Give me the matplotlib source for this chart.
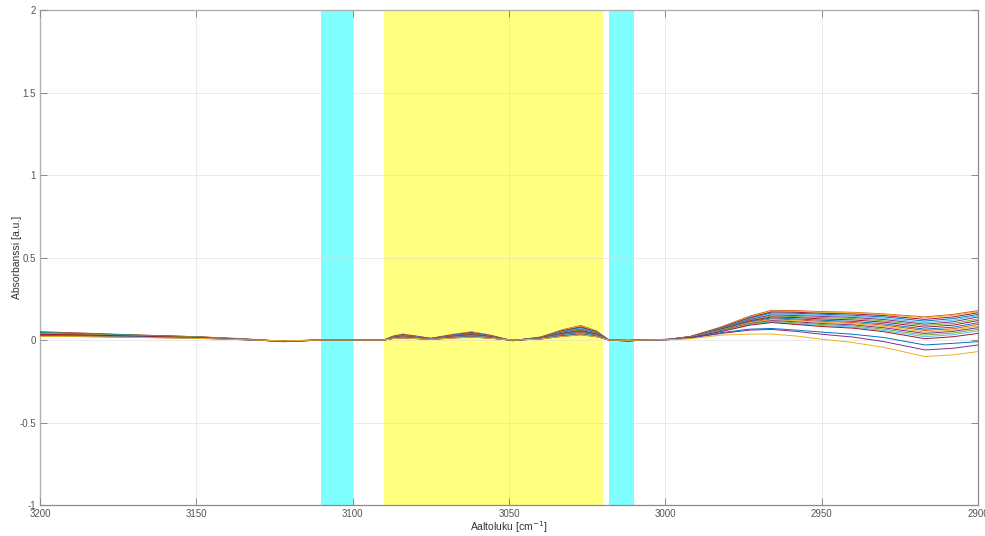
import matplotlib
matplotlib.use("Agg")
import matplotlib.pyplot as plt

plt.rcParams['font.family'] = ['Liberation Sans', 'DejaVu Sans']

wavenumber = [3200, 3185, 3170, 3150, 3135, 3122, 3110, 3100,
              3090, 3087, 3084, 3080, 3075, 3068, 3062, 3056, 3049, 3040, 3033, 3027, 3022, 3018, 3012, 3005,
              2999, 2992, 2982, 2973, 2966, 2958, 2950, 2940, 2930, 2917, 2908, 2900]

s01 = ([0.045, 0.038, 0.030, 0.020, 0.008, -0.008, 0.000, 0.000] +
       [0, 0.024, 0.036, 0.025, 0.010, 0.034, 0.050, 0.030, -0.004, 0.018, 0.062, 0.088, 0.055, 0, -0.006, 0.002] +
       [0.004, 0.022, 0.080, 0.145, 0.180, 0.178, 0.172, 0.168, 0.158, 0.140, 0.155, 0.178])
s02 = ([0.040, 0.035, 0.028, 0.018, 0.006, -0.010, 0.000, 0.000] +
       [0, 0.023, 0.034, 0.024, 0.010, 0.032, 0.048, 0.029, -0.004, 0.017, 0.059, 0.084, 0.052, 0, -0.006, 0.002] +
       [0.004, 0.021, 0.078, 0.140, 0.175, 0.174, 0.168, 0.165, 0.155, 0.135, 0.150, 0.172])
s03 = ([0.050, 0.041, 0.031, 0.020, 0.006, -0.010, 0.000, 0.000] +
       [0, 0.022, 0.032, 0.023, 0.009, 0.031, 0.045, 0.027, -0.004, 0.016, 0.056, 0.079, 0.050, 0, -0.006, 0.002] +
       [0.004, 0.021, 0.076, 0.136, 0.170, 0.168, 0.162, 0.158, 0.148, 0.125, 0.140, 0.165])
s04 = ([0.038, 0.033, 0.026, 0.017, 0.006, -0.008, 0.000, 0.000] +
       [0, 0.020, 0.031, 0.021, 0.009, 0.029, 0.043, 0.026, -0.004, 0.015, 0.053, 0.075, 0.047, 0, -0.005, 0.002] +
       [0.004, 0.020, 0.074, 0.132, 0.164, 0.162, 0.156, 0.150, 0.140, 0.115, 0.130, 0.155])
s05 = ([0.042, 0.036, 0.028, 0.018, 0.005, -0.009, 0.000, 0.000] +
       [0, 0.019, 0.029, 0.020, 0.008, 0.027, 0.040, 0.024, -0.003, 0.014, 0.050, 0.070, 0.044, 0, -0.005, 0.002] +
       [0.004, 0.020, 0.072, 0.128, 0.158, 0.155, 0.150, 0.144, 0.132, 0.105, 0.120, 0.148])
s06 = ([0.036, 0.031, 0.025, 0.016, 0.005, -0.008, 0.000, 0.000] +
       [0, 0.018, 0.027, 0.019, 0.008, 0.026, 0.038, 0.023, -0.003, 0.014, 0.047, 0.066, 0.041, 0, -0.005, 0.001] +
       [0.004, 0.019, 0.070, 0.124, 0.152, 0.148, 0.143, 0.137, 0.124, 0.096, 0.110, 0.140])
s07 = ([0.046, 0.039, 0.030, 0.019, 0.005, -0.010, 0.000, 0.000] +
       [0, 0.017, 0.025, 0.018, 0.007, 0.024, 0.035, 0.021, -0.003, 0.013, 0.043, 0.062, 0.039, 0, -0.004, 0.001] +
       [0.003, 0.019, 0.068, 0.120, 0.146, 0.142, 0.136, 0.130, 0.116, 0.088, 0.100, 0.128])
s08 = ([0.034, 0.030, 0.024, 0.016, 0.004, -0.008, 0.000, 0.000] +
       [0, 0.016, 0.023, 0.016, 0.007, 0.022, 0.033, 0.020, -0.003, 0.012, 0.040, 0.057, 0.036, 0, -0.004, 0.001] +
       [0.003, 0.018, 0.066, 0.116, 0.140, 0.136, 0.128, 0.122, 0.108, 0.078, 0.090, 0.118])
s09 = ([0.044, 0.037, 0.029, 0.018, 0.004, -0.009, 0.000, 0.000] +
       [0, 0.014, 0.022, 0.015, 0.006, 0.020, 0.030, 0.018, -0.002, 0.011, 0.037, 0.053, 0.033, 0, -0.004, 0.001] +
       [0.003, 0.018, 0.064, 0.112, 0.134, 0.128, 0.120, 0.113, 0.098, 0.066, 0.078, 0.105])
s10 = ([0.032, 0.028, 0.022, 0.015, 0.004, -0.007, 0.000, 0.000] +
       [0, 0.013, 0.020, 0.014, 0.006, 0.019, 0.028, 0.017, -0.002, 0.010, 0.034, 0.048, 0.030, 0, -0.003, 0.001] +
       [0.003, 0.017, 0.062, 0.108, 0.128, 0.122, 0.113, 0.106, 0.090, 0.058, 0.068, 0.095])
s11 = ([0.039, 0.033, 0.026, 0.017, 0.004, -0.008, 0.000, 0.000] +
       [0, 0.012, 0.018, 0.013, 0.005, 0.017, 0.025, 0.015, -0.002, 0.009, 0.031, 0.044, 0.028, 0, -0.003, 0.001] +
       [0.003, 0.017, 0.060, 0.104, 0.123, 0.116, 0.107, 0.099, 0.082, 0.048, 0.060, 0.085])
s12 = ([0.030, 0.027, 0.021, 0.014, 0.003, -0.007, 0.000, 0.000] +
       [0, 0.012, 0.018, 0.013, 0.005, 0.017, 0.025, 0.015, -0.002, 0.009, 0.031, 0.044, 0.028, 0, -0.003, 0.001] +
       [0.003, 0.016, 0.058, 0.100, 0.118, 0.110, 0.100, 0.092, 0.074, 0.040, 0.052, 0.075])
s13 = ([0.037, 0.032, 0.025, 0.016, 0.003, -0.008, 0.000, 0.000] +
       [0, 0.011, 0.016, 0.011, 0.005, 0.015, 0.023, 0.014, -0.002, 0.008, 0.028, 0.040, 0.025, 0, -0.003, 0.001] +
       [0.003, 0.016, 0.056, 0.097, 0.114, 0.104, 0.094, 0.085, 0.066, 0.030, 0.042, 0.065])
s14 = ([0.028, 0.025, 0.020, 0.013, 0.003, -0.006, 0.000, 0.000] +
       [0, 0.011, 0.016, 0.011, 0.005, 0.015, 0.023, 0.014, -0.002, 0.008, 0.028, 0.040, 0.025, 0, -0.003, 0.001] +
       [0.003, 0.015, 0.054, 0.094, 0.110, 0.098, 0.088, 0.078, 0.058, 0.020, 0.032, 0.055])
s15 = ([0.035, 0.030, 0.024, 0.015, 0.003, -0.007, 0.000, 0.000] +
       [0, 0.010, 0.014, 0.010, 0.004, 0.014, 0.020, 0.012, -0.002, 0.007, 0.025, 0.035, 0.022, 0, -0.002, 0.001] +
       [0.003, 0.015, 0.052, 0.090, 0.106, 0.094, 0.082, 0.072, 0.050, 0.008, 0.020, 0.040])
s16 = ([0.026, 0.023, 0.018, 0.012, 0.002, -0.006, 0.000, 0.000] +
       [0, 0.010, 0.014, 0.010, 0.004, 0.014, 0.020, 0.012, -0.002, 0.007, 0.025, 0.035, 0.022, 0, -0.002, 0.001] +
       [0.002, 0.013, 0.045, 0.066, 0.070, 0.060, 0.048, 0.035, 0.015, -0.030, -0.020, -0.010])
s17 = ([0.024, 0.021, 0.017, 0.011, 0.002, -0.005, 0.000, 0.000] +
       [0, 0.009, 0.013, 0.009, 0.004, 0.012, 0.018, 0.011, -0.001, 0.006, 0.022, 0.032, 0.020, 0, -0.002, 0.001] +
       [0.002, 0.012, 0.040, 0.060, 0.064, 0.052, 0.035, 0.018, -0.010, -0.060, -0.050, -0.030])
s18 = ([0.022, 0.020, 0.016, 0.010, 0.002, -0.005, 0.000, 0.000] +
       [0, 0.009, 0.013, 0.009, 0.004, 0.012, 0.018, 0.011, -0.001, 0.006, 0.022, 0.032, 0.020, 0, -0.002, 0.001] +
       [0.002, 0.008, 0.030, 0.036, 0.036, 0.024, 0.005, -0.015, -0.045, -0.100, -0.090, -0.070])

spectra = [s01, s02, s03, s04, s05, s06, s07, s08, s09,
           s10, s11, s12, s13, s14, s15, s16, s17, s18]
line_colors = ['#D95319', '#EDB120', '#A2142F', '#0072BD', '#4DBEEE', '#7E2F8E',
               '#77AC30', '#A2142F', '#0072BD', '#D95319', '#EDB120', '#7E2F8E',
               '#77AC30', '#4DBEEE', '#A2142F', '#0072BD', '#7E2F8E', '#EDB120']

# highlighted regions (cm^-1)
cyan_bands = [(3110, 3100), (3018, 3010)]
yellow_bands = [(3090, 3020)]

x_ticks = [3200, 3150, 3100, 3050, 3000, 2950, 2900]
y_ticks = [-1, -0.5, 0, 0.5, 1, 1.5, 2]

fig = plt.figure(figsize=(9.85, 5.36), dpi=100)
ax = fig.add_axes([0.0406, 0.0578, 0.9523, 0.9235])

for a, b in cyan_bands:
    ax.axvspan(a, b, color='#80ffff', lw=0, zorder=1)
for a, b in yellow_bands:
    ax.axvspan(a, b, color='#ffff80', lw=0, zorder=1)

for s, c in zip(spectra, line_colors):
    ax.plot(wavenumber, s, color=c, lw=0.7, zorder=3)

ax.set_xlim(3200, 2900)
ax.set_ylim(-1, 2)
ax.set_xticks(x_ticks)
ax.set_xticklabels([str(t) for t in x_ticks])
ax.set_yticks(y_ticks)
ax.set_yticklabels(['-1', '-0.5', '0', '0.5', '1', '1.5', '2'])
ax.grid(True, color='#d8d8d8', lw=0.6, alpha=0.6, zorder=2)
ax.set_axisbelow(False)
for sp in ax.spines.values():
    sp.set_color('#8a8a8a')
    sp.set_linewidth(0.9)
ax.tick_params(direction='in', length=5, width=0.7, colors='#8a8a8a',
               labelcolor='#555555', labelsize=7, top=True, right=True, pad=3)
ax.set_xlabel('Aaltoluku [cm$^{-1}$]', fontsize=7.5, color='#333333', labelpad=0)
ax.set_ylabel('Absorbanssi [a.u.]', fontsize=7.5, color='#333333', labelpad=-2)

fig.savefig('out.png', dpi=100)
